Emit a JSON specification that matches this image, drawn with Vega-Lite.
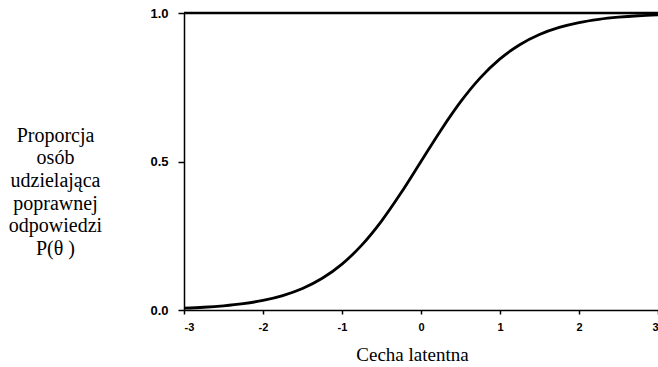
{
  "$schema": "https://vega.github.io/schema/vega-lite/v6.json",
  "width": 474,
  "height": 297,
  "autosize": {"type": "none"},
  "padding": {"left": 184, "top": 13, "right": 0, "bottom": 57},
  "background": "white",
  "config": {
    "view": {"stroke": null},
    "axis": {
      "grid": false,
      "domainColor": "black",
      "domainWidth": 1.5,
      "tickColor": "black",
      "tickWidth": 1.5,
      "labelFont": "Liberation Sans",
      "labelFontWeight": "bold",
      "labelColor": "black",
      "titleFont": "Liberation Serif",
      "titleFontWeight": "normal",
      "titleColor": "black"
    }
  },
  "datasets": {
    "curve": [
      {"x": -3, "p": 0.0061}, {"x": -2.75, "p": 0.0092}, {"x": -2.5, "p": 0.0141}, {"x": -2.25, "p": 0.0214},
      {"x": -2, "p": 0.0323}, {"x": -1.75, "p": 0.0486}, {"x": -1.5, "p": 0.0724}, {"x": -1.25, "p": 0.1067},
      {"x": -1, "p": 0.1545}, {"x": -0.75, "p": 0.2184}, {"x": -0.5, "p": 0.2994}, {"x": -0.25, "p": 0.3953},
      {"x": 0, "p": 0.5}, {"x": 0.25, "p": 0.6047}, {"x": 0.5, "p": 0.7006}, {"x": 0.75, "p": 0.7816},
      {"x": 1, "p": 0.8455}, {"x": 1.25, "p": 0.8933}, {"x": 1.5, "p": 0.9276}, {"x": 1.75, "p": 0.9514},
      {"x": 2, "p": 0.9677}, {"x": 2.25, "p": 0.9786}, {"x": 2.5, "p": 0.9859}, {"x": 2.75, "p": 0.9908},
      {"x": 3, "p": 0.9939}
    ],
    "top": [{"y": 1}]
  },
  "layer": [
    {
      "data": {"name": "curve"},
      "mark": {"type": "line", "color": "black", "strokeWidth": 2.8, "interpolate": "monotone"},
      "encoding": {
        "x": {
          "field": "x", "type": "quantitative",
          "scale": {"domain": [-3, 3], "nice": false, "zero": false},
          "axis": {
            "values": [-3, -2, -1, 0, 1, 2, 3],
            "labelExpr": "datum.value < 0 ? '-' + abs(datum.value) : '' + datum.value",
            "tickSize": 4,
            "labelPadding": 7,
            "labelFontSize": 11,
            "title": "Cecha latentna",
            "titleFontSize": 19,
            "titleX": 228,
            "titlePadding": 13
          }
        },
        "y": {
          "field": "p", "type": "quantitative",
          "scale": {"domain": [0, 1], "nice": false},
          "axis": {
            "values": [0, 0.5, 1],
            "labelExpr": "datum.value == 0 ? '0.0' : datum.value == 1 ? '1.0' : '0.5'",
            "labelFontSize": 13,
            "tickSize": 6,
            "labelPadding": 10,
            "title": ["Proporcja", "osób", "udzielająca", "poprawnej", "odpowiedzi", "P(θ )"],
            "titleAngle": 0,
            "titleAlign": "center",
            "titleBaseline": "middle",
            "titleFontSize": 20,
            "titleLineHeight": 22.7,
            "titleX": -129,
            "titleY": 122
          }
        }
      }
    },
    {
      "data": {"name": "top"},
      "mark": {"type": "rule", "color": "black", "strokeWidth": 2.5},
      "encoding": {"y": {"field": "y", "type": "quantitative"}}
    }
  ]
}
